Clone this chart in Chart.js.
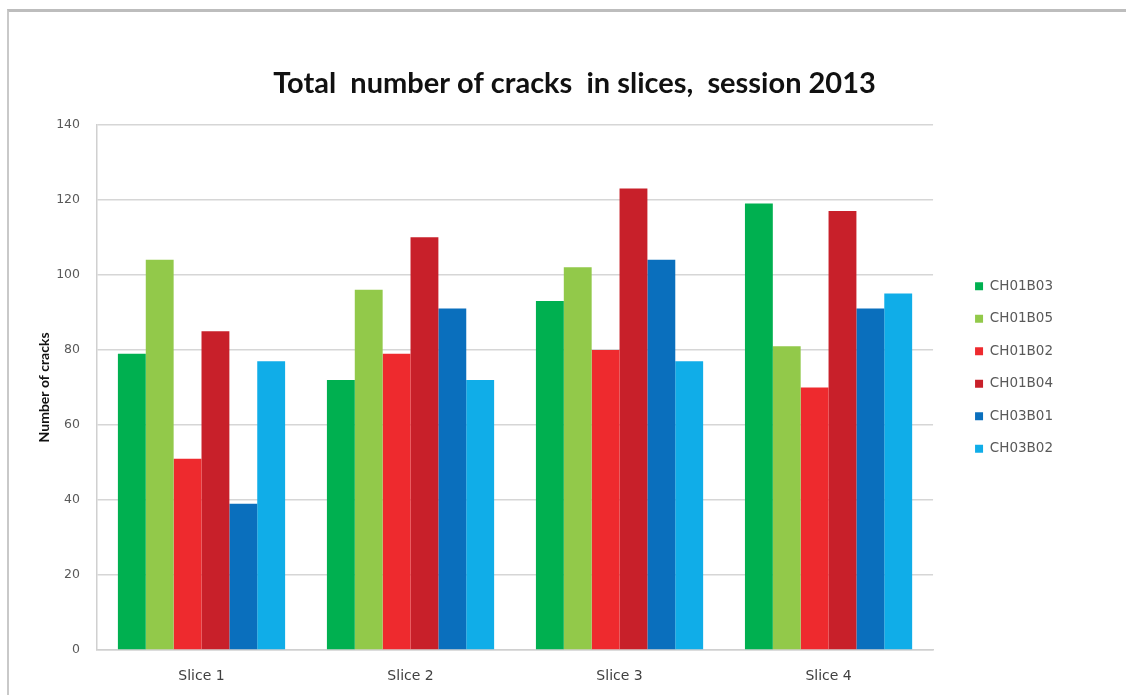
<!DOCTYPE html>
<html>
<head>
<meta charset="utf-8">
<script src="https://cdn.jsdelivr.net/npm/chart.js@4"></script>
<style>
  html, body { margin: 0; padding: 0; background: #fff; }
  #frame { position: absolute; left: 7px; top: 9px; width: 1119px; height: 686px;
           border-top: 3px solid #bdbdbd; border-left: 2px solid #c9c9c9; box-sizing: border-box; }
  #wrap { position: absolute; left: 0; top: 0; width: 1126px; height: 695px; }
</style>
</head>
<body>
<div id="frame"></div>
<div id="wrap"><canvas id="chart" width="1126" height="695"></canvas></div>
<script>
// Crack counts per slice, session 2013
const slices = ['Slice 1', 'Slice 2', 'Slice 3', 'Slice 4'];
const seriesNames = ['CH01B03', 'CH01B05', 'CH01B02', 'CH01B04', 'CH03B01', 'CH03B02'];
const ch01b03 = [79, 72, 93, 119];
const ch01b05 = [104, 96, 102, 81];
const ch01b02 = [51, 79, 80, 70];
const ch01b04 = [85, 110, 123, 117];
const ch03b01 = [39, 91, 104, 91];
const ch03b02 = [77, 72, 77, 95];
const yTicks = [0, 20, 40, 60, 80, 100, 120, 140];

const seriesValues = [ch01b03, ch01b05, ch01b02, ch01b04, ch03b01, ch03b02];
const seriesColors = ['#00b050', '#92c94a', '#ee2a2e', '#c8202a', '#0a6fbd', '#10ade8'];

const titleFont = "Lato, 'Open Sans', sans-serif";
const labelFont = "'DejaVu Sans', Verdana, sans-serif";

// Moves the legend and the title once the layout is computed,
// so the legend sits clear of the plot and the title centres over the page.
const boxNudge = {
  id: 'boxNudge',
  afterLayout(chart, args, opts) {
    const lg = chart.legend;
    if (lg) { lg.left += opts.legendDx; lg.right += opts.legendDx; lg.top += opts.legendDy; lg.bottom += opts.legendDy; }
    const tb = chart.titleBlock;
    if (tb) { tb.left += opts.titleDx; tb.right += opts.titleDx; }
  }
};

new Chart(document.getElementById('chart'), {
  type: 'bar',
  data: {
    labels: slices,
    datasets: seriesNames.map((name, i) => ({
      label: name,
      data: seriesValues[i],
      backgroundColor: seriesColors[i],
      borderWidth: 0,
      categoryPercentage: 0.8,
      barPercentage: 1.0
    }))
  },
  plugins: [boxNudge],
  options: {
    responsive: false,
    devicePixelRatio: 1,
    animation: false,
    layout: { padding: { left: 36, right: 86, top: 66, bottom: 12 } },
    plugins: {
      boxNudge: { legendDx: 23, legendDy: -7, titleDx: 36.5 },
      title: {
        display: true,
        text: 'Total  number of cracks  in slices,  session 2013',
        color: '#111',
        font: { family: titleFont, size: 29, weight: 'bold' },
        padding: { top: 0, bottom: 24 }
      },
      legend: {
        position: 'right',
        align: 'center',
        labels: {
          boxWidth: 8,
          boxHeight: 8,
          padding: 19,
          color: '#595959',
          font: { family: labelFont, size: 13.5 }
        }
      },
      tooltip: { enabled: false }
    },
    scales: {
      x: {
        afterFit: (scale) => { scale.height = 33; },
        grid: { display: false, drawTicks: false },
        border: { color: '#d0d0d0', width: 1.5 },
        ticks: { color: '#404040', font: { family: labelFont, size: 14 }, padding: 18 }
      },
      y: {
        min: 0,
        max: 140,
        afterBuildTicks: (scale) => { scale.ticks = yTicks.map(v => ({ value: v })); },
        afterFit: (scale) => { scale.width = 61; },
        grid: { color: '#d6d6d6', lineWidth: 1.5, drawTicks: false },
        border: { color: '#d0d0d0', width: 1.5 },
        ticks: { color: '#595959', font: { family: labelFont, size: 12.5 }, padding: 17 },
        title: {
          display: true,
          text: 'Number of cracks',
          color: '#111',
          font: { family: titleFont, size: 14, weight: 'bold' },
          padding: { top: 0, bottom: 0 }
        }
      }
    }
  }
});
</script>
</body>
</html>
